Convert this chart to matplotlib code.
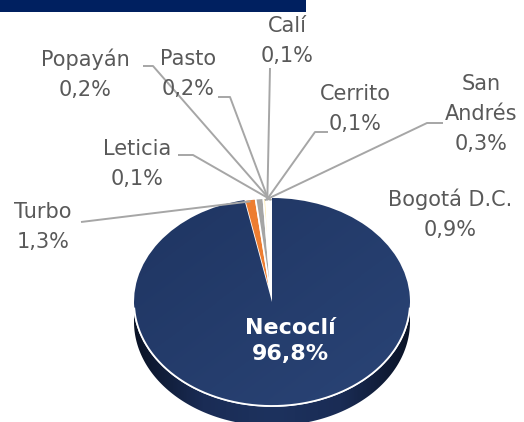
#import libraries
import numpy as np
import matplotlib.pyplot as plt
from matplotlib.patches import Rectangle, Polygon
from matplotlib.colors import LinearSegmentedColormap

#chart data (share of people by city, %)
cities = ['Necoclí', 'Turbo', 'Bogotá D.C.', 'San Andrés', 'Cerrito',
          'Calí', 'Pasto', 'Popayán', 'Leticia']
shares = [96.8, 1.3, 0.9, 0.3, 0.1, 0.1, 0.2, 0.2, 0.1]
labels = ['Necoclí', 'Turbo', 'Bogotá D.C.', 'San\nAndrés', 'Cerrito',
          'Calí', 'Pasto', 'Popayán', 'Leticia']
colors = ['#243c6c', '#ed7d31', '#a5a5a5', '#ffe699', '#d9d9d9',
          '#f2f2f2', '#fff2cc', '#dae3f3', '#ffffff']

#layout in image pixels (figure is 524 x 422)
W, H = 524, 422
cx, cy = 272, 302          #centre of the pie top
rx, ry = 138, 104          #half axes of the ellipse
depth = 0.19               #thickness of the pie (in y units)
fs = 15
txt_col = '#595959'
line_col = '#a6a6a6'

#text centre and leader elbow points (pixels) for the outside labels
label_xy = {'Turbo': (43, 227), 'Bogotá D.C.': (450, 214),
            'San Andrés': (481, 114), 'Cerrito': (355, 109),
            'Calí': (287, 41), 'Pasto': (188, 74),
            'Popayán': (85, 74), 'Leticia': (137, 164)}
leader = {'Turbo': [(81, 222)],
          'San Andrés': [(443, 123), (427, 123)],
          'Cerrito': [(328, 132), (315, 132)],
          'Calí': [(270, 68)],
          'Pasto': [(218, 97), (230, 97)],
          'Popayán': [(143, 66), (153, 66)],
          'Leticia': [(178, 155), (193, 155)]}


def px(x, y):
    #pixel position -> data units of the pie axes
    return (x - cx) / rx, (cy - y) / ry


def main():
    fig = plt.figure(figsize=(W / 100, H / 100), dpi=100)
    ax = fig.add_axes([0, 0, 1, 1])

    #side of the pie (front half), dark gradient
    t = np.linspace(np.pi, 2 * np.pi, 200)
    top = np.column_stack([np.cos(t), np.sin(t)])
    bot = np.column_stack([np.cos(t[::-1]), np.sin(t[::-1]) - depth])
    side = Polygon(np.vstack([top, bot]), closed=True, facecolor='none',
                   edgecolor='none')
    ax.add_patch(side)
    side_cmap = LinearSegmentedColormap.from_list(
        'side', ['#0a1326', '#1a2c55', '#1d325e', '#1a2c55', '#0a1326'])
    grad = np.linspace(0, 1, 256).reshape(1, -1)
    im = ax.imshow(grad, cmap=side_cmap, aspect='auto',
                   extent=(-1, 1, -1 - depth, 0), zorder=1)
    im.set_clip_path(side)

    #top face
    wedges, _ = ax.pie(shares, colors=colors, startangle=90,
                       counterclock=False, radius=1, center=(0, 0),
                       wedgeprops=dict(edgecolor='white', linewidth=1.2))
    for w in wedges:
        w.set_zorder(2)

    #subtle light on the big slice
    yy, xx = np.mgrid[-1:1:200j, -1:1:200j]
    shade = (xx - yy) * 0.5
    top_cmap = LinearSegmentedColormap.from_list('top', ['#1f3562', '#2a4476'])
    im2 = ax.imshow(shade, cmap=top_cmap, extent=(-1, 1, -1, 1),
                    origin='lower', aspect='auto', zorder=2.5)
    im2.set_clip_path(wedges[0])
    tt = np.linspace(np.pi * 1.02, np.pi * 1.98, 200)
    ax.plot(np.cos(tt), np.sin(tt), color='white', lw=1.3, zorder=3)

    #labels
    for i, name in enumerate(cities):
        pct = ('%.1f%%' % shares[i]).replace('.', ',')
        w = wedges[i]
        if i == 0:
            x, y = px(290, 341)
            ax.text(x, y, labels[i] + '\n' + pct, ha='center', va='center',
                    color='white', fontsize=16, fontweight='bold',
                    linespacing=1.4, zorder=5)
            continue
        x, y = px(*label_xy[name])
        ax.text(x, y, labels[i] + '\n' + pct, ha='center', va='center',
                color=txt_col, fontsize=fs, linespacing=1.6, zorder=5)
        if name in leader:
            mid = np.deg2rad((w.theta1 + w.theta2) / 2)
            ex, ey = 0.98 * np.cos(mid), 0.98 * np.sin(mid)
            pts = [px(*p) for p in leader[name]] + [(ex, ey)]
            ax.plot([p[0] for p in pts], [p[1] for p in pts],
                    color=line_col, lw=1.4, zorder=4, solid_capstyle='butt')

    #piece of the title bar at the top
    x0, y0 = px(0, 12)
    x1, y1 = px(306, 0)
    ax.add_patch(Rectangle((x0, y0), x1 - x0, y1 - y0, facecolor='#002060',
                           edgecolor='none', zorder=6))

    ax.set_aspect('auto')
    ax.set_xlim(px(0, 0)[0], px(W, 0)[0])
    ax.set_ylim(px(0, H)[1], px(0, 0)[1])
    ax.axis('off')
    fig.savefig('out.png', dpi=100)


if __name__ == "__main__":
    main()
